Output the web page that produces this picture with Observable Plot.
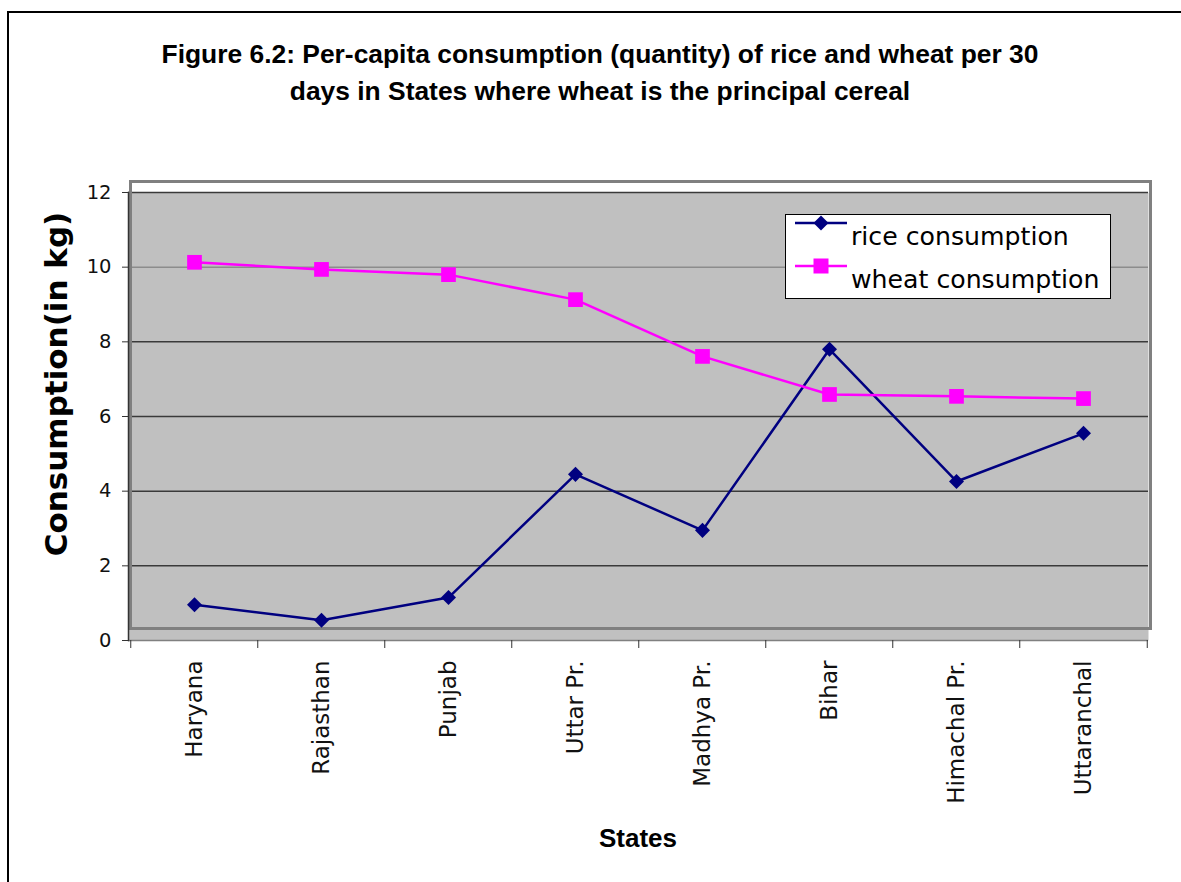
<!DOCTYPE html>
<html><head><meta charset="utf-8">
<script src="https://cdn.jsdelivr.net/npm/d3@7"></script>
<script src="https://cdn.jsdelivr.net/npm/@observablehq/plot@0.6"></script>
<style>
body{margin:0;background:#fff;}
#wrap{position:relative;width:1181px;height:882px;overflow:hidden;font-family:"DejaVu Sans",sans-serif;}
#border{position:absolute;left:7px;top:11px;width:1300px;height:1000px;border-left:2px solid #000;border-top:2px solid #000;}
#title{position:absolute;left:0;width:1200px;top:36px;text-align:center;font-weight:bold;font-size:26.4px;font-family:"Liberation Sans",sans-serif;line-height:37px;color:#000;}
#chart{position:absolute;left:0;top:0;}
#ytitle{position:absolute;left:56px;top:384px;transform:translate(-50%,-50%) rotate(-90deg);white-space:nowrap;font-weight:bold;font-size:31px;font-family:"DejaVu Sans",sans-serif;}
#xtitle{position:absolute;left:638px;top:838px;transform:translate(-50%,-50%);white-space:nowrap;font-weight:bold;font-size:26px;font-family:"Liberation Sans",sans-serif;}
#legend{position:absolute;left:785px;top:214px;}
</style></head>
<body><div id="wrap">
<div id="border"></div>
<div id="chart"></div>
<div id="title">Figure 6.2: Per-capita consumption (quantity) of rice and wheat per 30<br>days in States where wheat is the principal cereal</div>
<div id="ytitle">Consumption(in kg)</div>
<div id="xtitle">States</div>
<div id="legend"></div>
</div>
<script>
const states = ["Haryana","Rajasthan","Punjab","Uttar Pr.","Madhya Pr.","Bihar","Himachal Pr.","Uttaranchal"];
const rice = [0.96,0.54,1.15,4.45,2.95,7.80,4.26,5.55];
const wheat = [10.13,9.94,9.80,9.13,7.61,6.59,6.54,6.48];
const yTicks = [0,2,4,6,8,10,12];
const seriesNames = ["rice consumption","wheat consumption"];
const seriesColors = ["#000080","#ff00ff"];

const riceData = states.map((s,i)=>({state:s,value:rice[i]}));
const wheatData = states.map((s,i)=>({state:s,value:wheat[i]}));

const chart = Plot.plot({
  width:1181, height:882,
  marginLeft:128, marginRight:33, marginTop:192, marginBottom:242,
  x:{type:"point", domain:states, padding:0.5},
  y:{domain:[0,12]},
  style:{fontFamily:"DejaVu Sans", fontSize:"19px", color:"#000", background:"transparent"},
  marks:[
    Plot.frame({fill:"#c0c0c0"}),
    Plot.frame({fill:"#fff", insetTop:-11, insetBottom:448}),
    Plot.ruleY([2,4,6,8,12], {stroke:"#3a3a3a", strokeWidth:1.5}),
    Plot.ruleY([10], {stroke:"#8c8c8c", strokeWidth:1.5}),
    Plot.frame({stroke:"#808080", strokeWidth:3, insetTop:-11, insetBottom:12, insetLeft:2, insetRight:-2}),
    Plot.ruleY([0], {stroke:"#808080", strokeWidth:1.5}),
    Plot.frame({anchor:"left", stroke:"#333", strokeWidth:1.5}),
    Plot.axisY({ticks:yTicks, tickSize:6, tickPadding:11, stroke:"#333", fontSize:19.5, fill:"#111", label:null}),
    Plot.axisX({ticks:states, tickSize:8, tickFormat:()=>"", dx:-63.75, stroke:"#333", label:null}),
    Plot.axisX({ticks:[states[states.length-1]], tickSize:8, tickFormat:()=>"", dx:63.75, stroke:"#333", label:null}),
    Plot.axisX({ticks:states, tickSize:0, tickPadding:20, tickRotate:-90, fontSize:23, fill:"#111", label:null}),
    Plot.line(riceData, {x:"state", y:"value", stroke:seriesColors[0], strokeWidth:2.5}),
    Plot.line(wheatData, {x:"state", y:"value", stroke:seriesColors[1], strokeWidth:2.5}),
    Plot.dot(riceData, {x:"state", y:"value", symbol:"square", r:6, rotate:45, fill:seriesColors[0]}),
    Plot.dot(wheatData, {x:"state", y:"value", symbol:"square", r:8.3, fill:seriesColors[1]})
  ]
});
document.getElementById("chart").appendChild(chart);

// legend
const lg = d3.select("#legend").append("svg").attr("width",330).attr("height",88);
lg.append("rect").attr("x",0.5).attr("y",0.5).attr("width",325).attr("height",84).attr("fill","#fff").attr("stroke","#000");
const rows = [{y:9, ty:31},{y:52, ty:74}];
seriesNames.forEach((n,i)=>{
  const r = rows[i];
  lg.append("line").attr("x1",10).attr("x2",62).attr("y1",r.y).attr("y2",r.y).attr("stroke",seriesColors[i]).attr("stroke-width",2.5);
  if(i===0){
    lg.append("rect").attr("x",-5.3).attr("y",-5.3).attr("width",10.6).attr("height",10.6).attr("fill",seriesColors[i]).attr("transform",`translate(36,${r.y}) rotate(45)`);
  } else {
    lg.append("rect").attr("x",36-7.5).attr("y",r.y-7.5).attr("width",15).attr("height",15).attr("fill",seriesColors[i]);
  }
  lg.append("text").attr("x",66).attr("y",r.ty).attr("font-family","DejaVu Sans").attr("font-size",25.2).attr("fill","#000").text(n);
});
</script>
</body></html>
